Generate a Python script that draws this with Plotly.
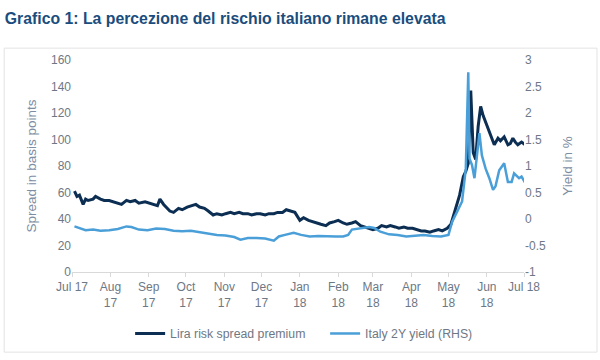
import plotly.graph_objects as go

title_text = "Grafico 1: La percezione del rischio italiano rimane elevata"

lira_dates = [
    "2017-07-03", "2017-07-05", "2017-07-07", "2017-07-10", "2017-07-12", "2017-07-14", "2017-07-18",
    "2017-07-20", "2017-07-24", "2017-07-27", "2017-07-31", "2017-08-03", "2017-08-07", "2017-08-10",
    "2017-08-14", "2017-08-17", "2017-08-21", "2017-08-24", "2017-08-29", "2017-09-01", "2017-09-05",
    "2017-09-08", "2017-09-10", "2017-09-13", "2017-09-18", "2017-09-21", "2017-09-25", "2017-09-28",
    "2017-10-02", "2017-10-05", "2017-10-09", "2017-10-12", "2017-10-16", "2017-10-19", "2017-10-23",
    "2017-10-26", "2017-10-30", "2017-11-02", "2017-11-06", "2017-11-09", "2017-11-13", "2017-11-16",
    "2017-11-20", "2017-11-23", "2017-11-27", "2017-11-30", "2017-12-04", "2017-12-07", "2017-12-11",
    "2017-12-14", "2017-12-18", "2017-12-21", "2017-12-25", "2017-12-28", "2018-01-01", "2018-01-04",
    "2018-01-08", "2018-01-11", "2018-01-15", "2018-01-18", "2018-01-22", "2018-01-25", "2018-01-29",
    "2018-02-01", "2018-02-05", "2018-02-08", "2018-02-12", "2018-02-15", "2018-02-19", "2018-02-22",
    "2018-02-26", "2018-03-01", "2018-03-05", "2018-03-08", "2018-03-12", "2018-03-15", "2018-03-19",
    "2018-03-22", "2018-03-26", "2018-03-29", "2018-04-02", "2018-04-05", "2018-04-09", "2018-04-12",
    "2018-04-16", "2018-04-19", "2018-04-23", "2018-04-26", "2018-04-30", "2018-05-03", "2018-05-07",
    "2018-05-10", "2018-05-13", "2018-05-15", "2018-05-17", "2018-05-18", "2018-05-19", "2018-05-21",
    "2018-05-23", "2018-05-25", "2018-05-27", "2018-05-29", "2018-05-31", "2018-06-03", "2018-06-05",
    "2018-06-07", "2018-06-10", "2018-06-12", "2018-06-15", "2018-06-18", "2018-06-20", "2018-06-22",
    "2018-06-24", "2018-06-26", "2018-06-29", "2018-07-02",
]
lira_spread = [
    61, 57, 58, 51, 55, 54, 55,
    57, 55, 54, 54, 53, 52, 51,
    54, 53, 54, 52, 53, 52, 51,
    50, 55, 51, 46, 45, 48, 47,
    49, 50, 51, 49, 48, 46, 43,
    44, 43, 44, 45, 44, 45, 44,
    44, 43, 44, 44, 43, 44, 44,
    45, 45, 47, 46, 45, 39, 41,
    39, 38, 37, 36, 35, 37, 38,
    39, 37, 36, 37, 38, 35, 34,
    33, 32, 33, 35, 34, 35, 34,
    33, 34, 33, 33, 32, 31, 31,
    30, 31, 32, 31, 33, 36, 48,
    58, 72, 76, 82, 110, 137, 90,
    85, 110, 125, 118, 113, 106, 100,
    96, 101, 99, 102, 96, 97, 101,
    98, 96, 98, 96,
]

yield_dates = [
    "2017-07-03", "2017-07-07", "2017-07-12", "2017-07-18", "2017-07-24", "2017-07-31", "2017-08-07",
    "2017-08-14", "2017-08-18", "2017-08-24", "2017-08-31", "2017-09-07", "2017-09-14", "2017-09-21",
    "2017-09-28", "2017-10-05", "2017-10-12", "2017-10-19", "2017-10-26", "2017-11-02", "2017-11-09",
    "2017-11-14", "2017-11-20", "2017-11-27", "2017-12-04", "2017-12-11", "2017-12-15", "2017-12-20",
    "2017-12-27", "2018-01-02", "2018-01-09", "2018-01-16", "2018-01-23", "2018-01-30", "2018-02-05",
    "2018-02-09", "2018-02-12", "2018-02-19", "2018-02-26", "2018-03-02", "2018-03-07", "2018-03-14",
    "2018-03-21", "2018-03-28", "2018-04-04", "2018-04-11", "2018-04-18", "2018-04-25", "2018-05-01",
    "2018-05-04", "2018-05-08", "2018-05-12", "2018-05-15", "2018-05-17", "2018-05-18", "2018-05-20",
    "2018-05-22", "2018-05-26", "2018-05-28", "2018-05-31", "2018-06-03", "2018-06-06", "2018-06-08",
    "2018-06-11", "2018-06-15", "2018-06-18", "2018-06-21", "2018-06-23", "2018-06-27", "2018-06-29",
    "2018-07-02",
]
italy_2y = [
    -0.14, -0.17, -0.21, -0.20, -0.22, -0.21, -0.19,
    -0.14, -0.15, -0.20, -0.21, -0.18, -0.19, -0.22,
    -0.23, -0.22, -0.25, -0.27, -0.30, -0.31, -0.34,
    -0.39, -0.36, -0.36, -0.37, -0.41, -0.33, -0.30,
    -0.26, -0.30, -0.33, -0.32, -0.33, -0.33, -0.33,
    -0.30, -0.20, -0.17, -0.15, -0.17, -0.24, -0.29,
    -0.30, -0.33, -0.31, -0.30, -0.32, -0.33, -0.30,
    -0.05, 0.14, 0.33, 0.95, 2.77, 1.14, 1.02,
    0.77, 1.62, 1.20, 0.95, 0.77, 0.55, 0.62,
    0.92, 1.05, 0.70, 0.70, 0.86, 0.77, 0.80,
    0.68,
]

x_tick_vals = ["2017-07-01", "2017-08-01", "2017-09-01", "2017-10-01", "2017-11-01", "2017-12-01",
               "2018-01-01", "2018-02-01", "2018-03-01", "2018-04-01", "2018-05-01", "2018-06-01",
               "2018-07-01"]
x_tick_text = ["Jul 17", "Aug<br>17", "Sep<br>17", "Oct<br>17", "Nov<br>17", "Dec<br>17",
               "Jan<br>18", "Feb<br>18", "Mar<br>18", "Apr<br>18", "May<br>18", "Jun<br>18",
               "Jul 18"]
left_ticks = [0, 20, 40, 60, 80, 100, 120, 140, 160]
right_tick_vals = [-1, -0.5, 0, 0.5, 1, 1.5, 2, 2.5, 3]
right_tick_text = ["-1", "-0.5", "0", "0.5", "1", "1.5", "2", "2.5", "3"]

DARK = "#0b2e52"
LIGHT = "#4a9fd8"
GREY = "#6e7885"
FONT = "Liberation Sans, Arial, sans-serif"

fig = go.Figure()
fig.add_trace(go.Scatter(x=lira_dates, y=lira_spread, name="Lira risk spread premium",
                         mode="lines", line=dict(color=DARK, width=3), yaxis="y"))
fig.add_trace(go.Scatter(x=yield_dates, y=italy_2y, name="Italy 2Y yield (RHS)",
                         mode="lines", line=dict(color=LIGHT, width=2.5), yaxis="y2"))

fig.update_layout(
    width=600, height=360,
    margin=dict(l=72, r=76, t=60, b=86),
    paper_bgcolor="white", plot_bgcolor="white",
    font=dict(family=FONT, size=12, color=GREY),
    title=dict(text="<b>" + title_text + "</b>", x=0.008, xanchor="left", y=0.95, yanchor="middle",
               font=dict(family=FONT, size=15.8, color="#1a4d7d")),
    xaxis=dict(type="date", range=["2017-07-01", "2018-07-01"], tickvals=x_tick_vals,
               ticktext=x_tick_text, showgrid=False, showline=True, linecolor="#d9d9d9",
               ticks="outside", ticklen=4, tickcolor="#d9d9d9", zeroline=False,
               tickfont=dict(size=12, color=GREY)),
    yaxis=dict(range=[0, 160], tickvals=left_ticks, showgrid=False, zeroline=False,
               showline=False, ticks="", tickfont=dict(size=12, color=GREY),
               title=dict(text="Spread in basis points", font=dict(size=13.5, color="#7d8ea3"),
                          standoff=11)),
    yaxis2=dict(range=[-1, 3], tickvals=right_tick_vals, ticktext=right_tick_text,
                overlaying="y", side="right", showgrid=False, zeroline=False, showline=False,
                ticks="", tickfont=dict(size=12, color=GREY),
                title=dict(text="Yield in %", font=dict(size=13.5, color="#7d8ea3"), standoff=17)),
    legend=dict(orientation="h", x=0.56, xanchor="center", y=-0.29, yanchor="middle",
                font=dict(size=12.3, color=GREY), bgcolor="rgba(0,0,0,0)",
                entrywidth=150, entrywidthmode="pixels", itemwidth=30),
    showlegend=True,
)

fig.add_shape(type="rect", xref="paper", yref="paper", x0=-0.150, x1=1.1615, y0=-0.378, y1=1.056,
              line=dict(color="#e3e3e3", width=1), fillcolor="rgba(0,0,0,0)", layer="below")

fig.write_html("out.html", config={"displayModeBar": False},
               post_script="document.body.style.margin='0';")
